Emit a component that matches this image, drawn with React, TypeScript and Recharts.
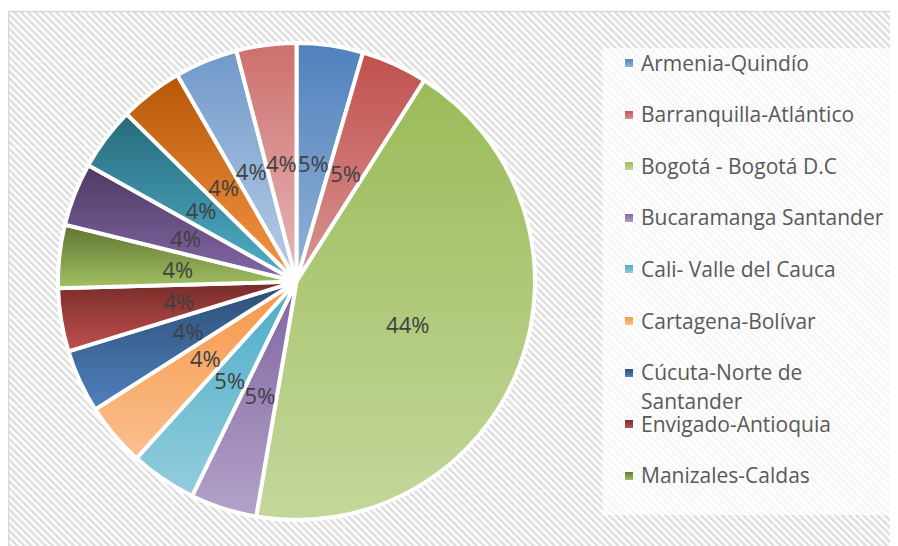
import React from "react";
import { PieChart, Pie, Cell, Legend } from "recharts";

const cities = [
  "Armenia-Quindío",
  "Barranquilla-Atlántico",
  "Bogotá - Bogotá D.C",
  "Bucaramanga Santander",
  "Cali- Valle del Cauca",
  "Cartagena-Bolívar",
  "Cúcuta-Norte de Santander",
  "Envigado-Antioquia",
  "Manizales-Caldas",
  "Medellín-Antioquia",
  "Montería-Córdoba",
  "Neiva-Huila",
  "Pasto-Nariño",
  "Pereira-Risaralda",
];
const counts = [20, 20, 194, 20, 20, 19, 19, 19, 19, 19, 19, 19, 19, 18];
const topColors = [
  "#4F81BD", "#C0504D", "#9BBB59", "#8064A2", "#4BACC6", "#F79646",
  "#2C4D75", "#772C2A", "#5F7530", "#4D3B62", "#276A7C", "#B65708",
  "#7099CB", "#CD6F6D",
];
const bottomColors = [
  "#95B3D7", "#D99694", "#C4D79B", "#B2A2C7", "#93CDDD", "#FAC090",
  "#4F81BD", "#C0504D", "#A2C064", "#8567A8", "#50B0C9", "#F79646",
  "#B9CDE5", "#E6B9B8",
];
const legendCount = 9;

const data = cities.map((name, i) => ({ name, value: counts[i] }));

const RADIAN = Math.PI / 180;
const renderLabel = (props: any) => {
  const { cx, cy, midAngle, outerRadius, percent } = props;
  const r = outerRadius * 0.5;
  const x = cx + r * Math.cos(-midAngle * RADIAN);
  const y = cy + r * Math.sin(-midAngle * RADIAN);
  return (
    <text
      x={x}
      y={y}
      textAnchor="middle"
      dominantBaseline="central"
      fill="#404040"
      fontSize={22}
      fontFamily="'Open Sans', sans-serif"
    >
      {`${Math.round(percent * 100)}%`}
    </text>
  );
};

const renderLegend = (props: any) => {
  const payload = (props.payload || []).slice(0, legendCount);
  return (
    <div
      style={{
        position: "relative",
        width: 295,
        height: 467,
        background: "rgba(255,255,255,0.72)",
        fontFamily: "'Open Sans', sans-serif",
      }}
    >
      {payload.map((entry: any, i: number) => (
        <div
          key={i}
          style={{
            position: "absolute",
            left: 0,
            top: 15 + i * 51.6 - 14.5,
            width: 295,
            height: 29,
          }}
        >
          <svg
            width={10}
            height={10}
            style={{ position: "absolute", left: 21, top: 9.5 }}
          >
            <rect x={0.5} y={0.5} width={9} height={9} fill={`url(#g${i})`} stroke="#fff" strokeWidth={1} />
          </svg>
          <div
            style={{
              position: "absolute",
              left: 38,
              top: 0,
              width: 255,
              fontSize: 21,
              lineHeight: "29px",
              color: "#595959",
              whiteSpace: "normal",
            }}
          >
            {entry.value}
          </div>
        </div>
      ))}
    </div>
  );
};

const W = 890;
const H = 538;
const seamsX = [78, 164, 250, 336, 422, 508, 594, 680, 766, 852];
const seamsY = [53, 139, 225, 311, 397, 483];

export default function App() {
  return (
    <div style={{ position: "relative", width: W, height: H }}>
      <svg
        width={W}
        height={H}
        style={{ position: "absolute", left: 0, top: 0 }}
      >
        <defs>
          <pattern
            id="stripes"
            width={5}
            height={5}
            patternUnits="userSpaceOnUse"
            patternTransform="rotate(-45)"
          >
            <rect x={0} y={0} width={5} height={5} fill="#FFFFFF" />
            <rect x={0} y={0} width={2.5} height={5} fill="#DDDDDD" />
          </pattern>
          {topColors.map((c, i) => (
            <linearGradient key={i} id={`g${i}`} x1="0" y1="0" x2="0" y2="1">
              <stop offset="0%" stopColor={c} />
              <stop offset="100%" stopColor={bottomColors[i]} />
            </linearGradient>
          ))}
        </defs>
        <rect x={0} y={3} width={W} height={H - 3} fill="url(#stripes)" />
        {seamsX.map((x) => (
          <line key={`sx${x}`} x1={x} y1={3} x2={x} y2={H} stroke="#fff" strokeOpacity={0.5} strokeWidth={1} />
        ))}
        {seamsY.map((y) => (
          <line key={`sy${y}`} x1={0} y1={y} x2={W} y2={y} stroke="#fff" strokeOpacity={0.5} strokeWidth={1} />
        ))}
        <line x1={0} y1={3.5} x2={W} y2={3.5} stroke="#D9D9D9" strokeWidth={1.5} />
        <line x1={0.5} y1={3} x2={0.5} y2={H} stroke="#D9D9D9" strokeWidth={1.5} />
      </svg>
      <div style={{ position: "absolute", left: 0, top: 0 }}>
        <PieChart width={W} height={H} margin={{ top: 0, right: 0, bottom: 0, left: 0 }}>
          <Pie
            data={data}
            dataKey="value"
            nameKey="name"
            cx={288.5}
            cy={273.5}
            outerRadius={238.5}
            startAngle={90}
            endAngle={-270}
            stroke="#FFFFFF"
            strokeWidth={4}
            label={renderLabel}
            labelLine={false}
            isAnimationActive={false}
          >
            {data.map((d, i) => (
              <Cell key={d.name} fill={`url(#g${i})`} />
            ))}
          </Pie>
          <Legend
            content={renderLegend}
            wrapperStyle={{
              position: "absolute",
              left: 595,
              top: 40,
              width: 295,
              height: 467,
              bottom: "auto",
              right: "auto",
            }}
          />
        </PieChart>
      </div>
    </div>
  );
}
